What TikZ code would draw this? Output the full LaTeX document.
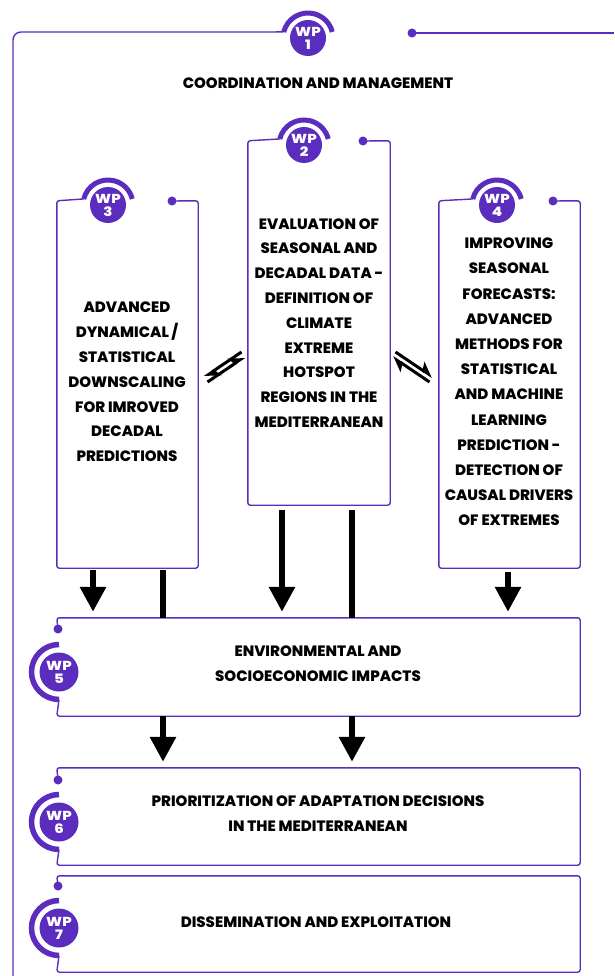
\documentclass[tikz,border=0pt]{standalone}
\usepackage{fontspec}
\setmainfont{Poppins}[BoldFont={* ExtraBold}]
\newfontfamily\badgefont{Poppins}[UprightFont={* ExtraBold}, FakeStretch=1.15]
\usetikzlibrary{arrows.meta}
\definecolor{wpurple}{RGB}{90,45,190}
\begin{document}
\begin{tikzpicture}[x=1pt,y=1pt,
  outline/.style={draw=wpurple, line width=1.4pt, rounded corners=2.5pt},
  boxarea/.style={rectangle, draw=none, inner sep=0pt},
  badge/.style={circle, fill=wpurple, minimum size=36pt, inner sep=0pt, text=white,
    font=\badgefont\fontsize{13}{13}\selectfont, align=center},
  lbadge/.style={badge, minimum size=39pt},
  badgearc/.style={draw=wpurple, line width=5pt},
  wpdot/.style={circle, fill=wpurple, minimum size=9pt, inner sep=0pt},
  lbl/.style={font=\bfseries\fontsize{15}{24.8}\selectfont, align=center, text=black, inner sep=0pt},
  bigarrow/.style={line width=6pt, -{Triangle[length=25pt,width=25pt]}},
  bar/.style={line width=6pt},
  harp/.style={line width=3pt, -{Stealth[harpoon,length=13pt,width=16pt,inset=3pt]}}
]
\useasboundingbox[fill=white] (0,0) rectangle (614,-976);

% box areas
\node[boxarea, minimum width=142pt, minimum height=364pt] (box2) at (319,-323) {};
\node[boxarea, minimum width=141pt, minimum height=367pt] (box3) at (127.5,-384.5) {};
\node[boxarea, minimum width=141pt, minimum height=367pt] (box4) at (509.5,-384.5) {};
\node[boxarea, minimum width=523pt, minimum height=98pt] (box5) at (318.5,-667) {};
\node[boxarea, minimum width=523pt, minimum height=97pt] (box6) at (318.5,-816.5) {};
\node[boxarea, minimum width=523pt, minimum height=96pt] (box7) at (318.5,-924) {};

% badges
\node[badge] (b1) at (308,-38) {WP\\1};
\node[badge] (b2) at (304,-145) {WP\\2};
\node[badge] (b3) at (108,-205) {WP\\3};
\node[badge] (b4) at (497,-205) {WP\\4};
\node[lbadge] (b5) at (59,-672) {WP\\5};
\node[lbadge] (b6) at (59,-822) {WP\\6};
\node[lbadge] (b7) at (59,-928) {WP\\7};

% arcs of badges
\foreach \b in {b1,b2,b3,b4}{
  \draw[badgearc] (\b.center) ++(166:25pt) arc[start angle=166, end angle=14, radius=25pt];
}
\foreach \b in {b5,b6,b7}{
  \draw[badgearc, line width=5.5pt] (\b.center) ++(90:27.5pt) arc[start angle=90, end angle=270, radius=27.5pt];
}

% dots
\node[wpdot] (d1) at (412,-33) {};
\node[wpdot] (d2) at (363,-141) {};
\node[wpdot] (d3) at (172,-201) {};
\node[wpdot] (d4) at (553,-201) {};
\node[wpdot] (d5) at (58,-629) {};
\node[wpdot] (d6) at (58,-780) {};
\node[wpdot] (d7) at (58,-886) {};

% outer frame (WP1)
\draw[outline] (d1.center) -- (614,-33);
\draw[draw=wpurple, line width=1.4pt, rounded corners=8pt] ([shift={(166:25pt)}]b1.center) -- (13,-32) -- (13,-976);

% boxes with top badges
\foreach \n/\b/\d in {2/b2/d2,3/b3/d3,4/b4/d4}{
  \draw[outline] (\d.center) -- (box\n.north east) -- (box\n.south east) -- (box\n.south west)
     -- (box\n.north west) -- ([shift={(166:25pt)}]\b.center);
}
% boxes with left badges
\foreach \n/\b/\d in {5/b5/d5,6/b6/d6,7/b7/d7}{
  \draw[outline] (\d.center) -- (box\n.north west) -- (box\n.north east) -- (box\n.south east)
     -- (box\n.south west) -- ([shift={(270:27.5pt)}]\b.center);
}

% labels
\node[lbl] (t1) at (318,-83) {COORDINATION AND MANAGEMENT};
\node[lbl] (t2) at (box2.center) {EVALUATION OF\\SEASONAL AND\\DECADAL DATA -\\DEFINITION OF\\CLIMATE\\EXTREME\\HOTSPOT\\REGIONS IN THE\\MEDITERRANEAN};
\node[lbl] (t3) at (127,-382) {ADVANCED\\DYNAMICAL /\\STATISTICAL\\DOWNSCALING\\FOR IMROVED\\DECADAL\\PREDICTIONS};
\node[lbl, font=\bfseries\fontsize{15}{25.2}\selectfont] (t4) at (509,-382) {IMPROVING\\SEASONAL\\FORECASTS:\\ADVANCED\\METHODS FOR\\STATISTICAL\\AND MACHINE\\LEARNING\\PREDICTION -\\DETECTION OF\\CAUSAL DRIVERS\\OF EXTREMES};
\node[lbl] (t5) at (318,-664) {ENVIRONMENTAL AND\\SOCIOECONOMIC IMPACTS};
\node[lbl] (t6) at (318,-814) {PRIORITIZATION OF ADAPTATION DECISIONS\\IN THE MEDITERRANEAN};
\node[lbl] (t7) at (316,-922) {DISSEMINATION AND EXPLOITATION};

% column coordinates
\coordinate (c93) at (93,0);
\coordinate (c163) at (163,0);
\coordinate (c282) at (282,0);
\coordinate (c352) at (352,0);
\coordinate (c508) at (508,0);

% arrows to WP5
\draw[bigarrow, shorten <=2pt, shorten >=6pt] (c93 |- box3.south) -- (c93 |- box5.north);
\draw[bar, shorten <=2pt] (c163 |- box3.south) -- (c163 |- box5.north);
\draw[bigarrow, shorten <=5pt, shorten >=6pt] (c282 |- box2.south) -- (c282 |- box5.north);
\draw[bar, shorten <=5pt] (c352 |- box2.south) -- (c352 |- box5.north);
\draw[bigarrow, shorten <=4pt, shorten >=6pt] (c508 |- box4.south) -- (c508 |- box5.north);
% arrows to WP6
\draw[bigarrow, shorten >=6pt] (c163 |- box5.south) -- (c163 |- box6.north);
\draw[bigarrow, shorten >=6pt] (c352 |- box5.south) -- (c352 |- box6.north);

% harpoon pairs between WP3-WP2 and WP2-WP4
\coordinate (hl1) at (204.5,-377);
\coordinate (hl2) at (241.5,-352);
\coordinate (hl3) at (207.5,-382);
\coordinate (hl4) at (244.5,-357);
\draw[harp] (hl3) -- (hl4);
\draw[harp] (hl2) -- (hl1);
\coordinate (hr1) at (395.5,-352);
\coordinate (hr2) at (432.5,-377);
\coordinate (hr3) at (392.5,-357);
\coordinate (hr4) at (429.5,-382);
\draw[harp] (hr1) -- (hr2);
\draw[harp] (hr4) -- (hr3);
\end{tikzpicture}
\end{document}
